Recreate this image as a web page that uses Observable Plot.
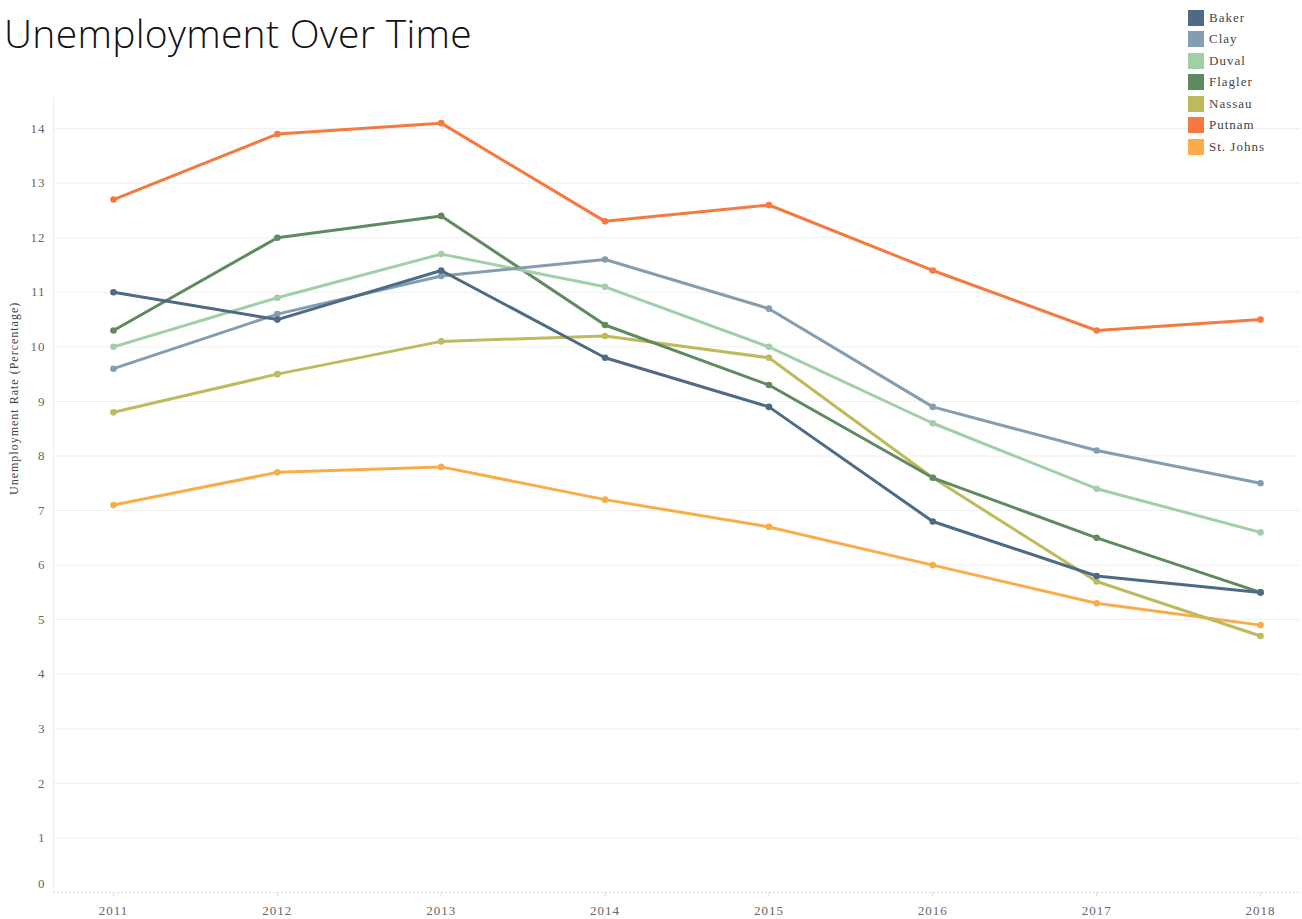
<!DOCTYPE html>
<html>
<head>
<meta charset="utf-8">
<script src="https://cdn.jsdelivr.net/npm/d3@7"></script>
<script src="https://cdn.jsdelivr.net/npm/@observablehq/plot@0.6"></script>
<style>
  html, body { margin: 0; padding: 0; background: #fff; }
  #wrap { position: relative; width: 1302px; height: 919px; overflow: hidden; }
  #title { position: absolute; left: 4px; top: 6px; font-family: "Open Sans", Lato, sans-serif; font-weight: 300; font-size: 39px; color: #111; letter-spacing: 0.3px; white-space: nowrap; }
  #legend { position: absolute; left: 1188px; top: 7px; font-family: "Liberation Serif", "DejaVu Serif", serif; font-size: 13px; color: #444; letter-spacing: 1px; }
  .item { display: flex; align-items: center; height: 21.5px; }
  .sw { width: 16px; height: 16px; margin-right: 5px; }
  #chart { position: absolute; left: 0; top: 0; }
</style>
</head>
<body>
<div id="wrap">
  <div id="chart"></div>
  <div id="title">Unemployment Over Time</div>
  <div id="legend"></div>
</div>
<script>
const years = [2011, 2012, 2013, 2014, 2015, 2016, 2017, 2018];
const counties = ["Baker", "Clay", "Duval", "Flagler", "Nassau", "Putnam", "St. Johns"];
const colors = ["#4e6a84", "#849db1", "#a2cea8", "#5f8a60", "#bdbb5d", "#f47a40", "#f9ad4a"];
const baker    = [11.0, 10.5, 11.4, 9.8, 8.9, 6.8, 5.8, 5.5];
const clay     = [9.6, 10.6, 11.3, 11.6, 10.7, 8.9, 8.1, 7.5];
const duval    = [10.0, 10.9, 11.7, 11.1, 10.0, 8.6, 7.4, 6.6];
const flagler  = [10.3, 12.0, 12.4, 10.4, 9.3, 7.6, 6.5, 5.5];
const nassau   = [8.8, 9.5, 10.1, 10.2, 9.8, 7.6, 5.7, 4.7];
const putnam   = [12.7, 13.9, 14.1, 12.3, 12.6, 11.4, 10.3, 10.5];
const stjohns  = [7.1, 7.7, 7.8, 7.2, 6.7, 6.0, 5.3, 4.9];
const yTicks = [0, 1, 2, 3, 4, 5, 6, 7, 8, 9, 10, 11, 12, 13, 14];

const series = [baker, clay, duval, flagler, nassau, putnam, stjohns];
const rows = [];
series.forEach((vals, i) => vals.forEach((v, j) => rows.push({county: counties[i], year: years[j], value: v, order: i})));
// draw in reverse so Baker ends on top
rows.sort((a, b) => b.order - a.order || a.year - b.year);

const serif = "'Liberation Serif', 'DejaVu Serif', serif";

const plot = Plot.plot({
  width: 1302,
  height: 919,
  marginLeft: 53,
  marginRight: 2,
  marginTop: 97,
  marginBottom: 27,
  style: {fontFamily: serif, background: "transparent"},
  x: {domain: [2010.634, 2018.244], axis: null},
  y: {domain: [0, 14.57], axis: null},
  color: {domain: counties, range: colors},
  marks: [
    Plot.ruleY(yTicks.filter(d => d > 0), {stroke: "#f0f0f0", strokeWidth: 1}),
    Plot.ruleX([2010.634], {y1: 0, y2: 14.57, stroke: "#ececec", strokeWidth: 1}),
    Plot.ruleY([0], {stroke: "#d8d8d8", strokeWidth: 1, strokeDasharray: "2,2"}),
    Plot.ruleX(years, {x: d => d, y1: 0, y2: -0.08, stroke: "#ddd"}),
    Plot.text(yTicks.filter(d => d > 0), {x: 2010.634, y: d => d, text: d => String(d), textAnchor: "end", dx: -8, fill: "#666", fontSize: 13, fontFamily: serif}),
    Plot.text([0], {x: 2010.634, y: d => d, text: d => String(d), textAnchor: "end", dx: -8, dy: -9, fill: "#666", fontSize: 13, fontFamily: serif}),
    Plot.text(years, {x: d => d, y: 0, text: d => String(d), dy: 18, fill: "#666", fontSize: 13, fontFamily: serif}),
    Plot.text(["Unemployment Rate (Percentage)"], {frameAnchor: "left", dx: -39, rotate: -90, fill: "#444", fontSize: 12, fontFamily: serif}),
    Plot.line(rows, {x: "year", y: "value", z: "county", stroke: "county", strokeWidth: 3, curve: "linear"}),
    Plot.dot(rows, {x: "year", y: "value", fill: "county", r: 3.3, stroke: null})
  ]
});
plot.querySelectorAll("text").forEach(t => t.style.letterSpacing = "1px");
document.getElementById("chart").appendChild(plot);

const legend = document.getElementById("legend");
counties.forEach((c, i) => {
  const it = document.createElement("div");
  it.className = "item";
  const sw = document.createElement("div");
  sw.className = "sw";
  sw.style.background = colors[i];
  const lb = document.createElement("span");
  lb.textContent = c;
  it.appendChild(sw); it.appendChild(lb);
  legend.appendChild(it);
});
</script>
</body>
</html>
